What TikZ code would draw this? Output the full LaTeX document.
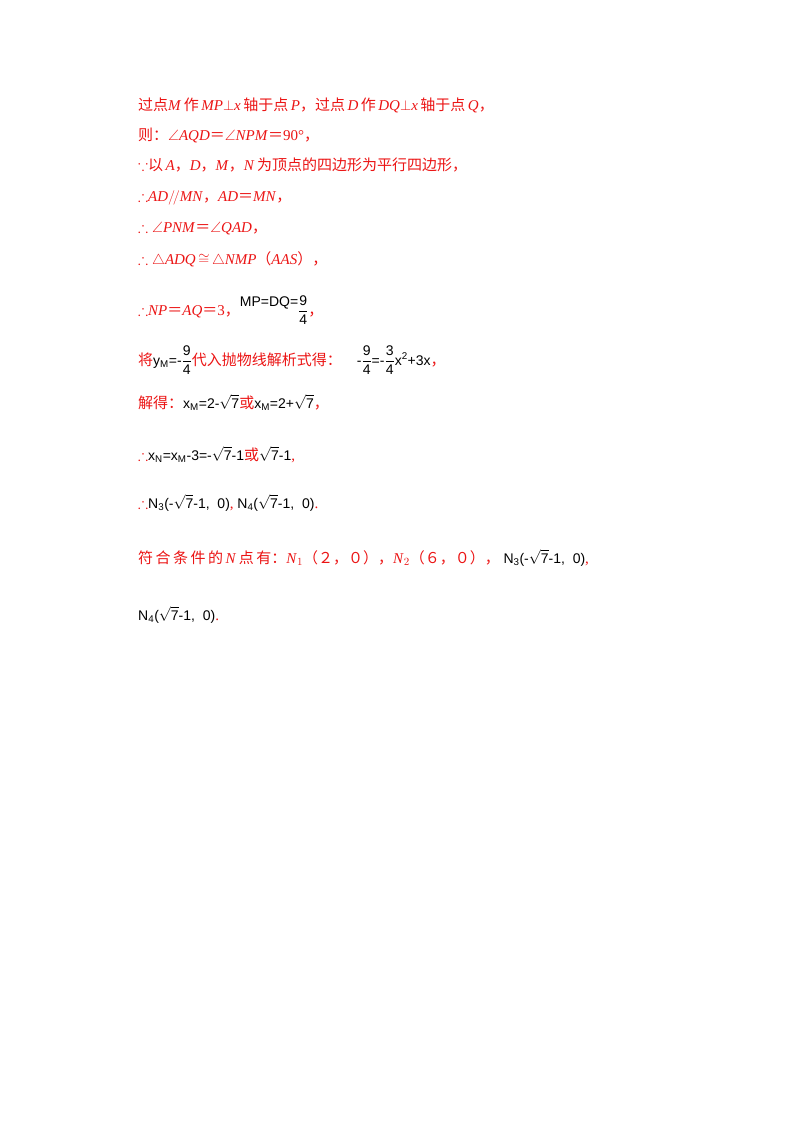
\documentclass[tikz,border=0pt]{standalone}
\usepackage{fontspec}
\usepackage{amsmath,amssymb}
\setmainfont{Liberation Serif}
\newfontfamily\cjk{Noto Sans CJK SC}
\newfontfamily\fsans{Liberation Sans}
\usetikzlibrary{positioning}
\definecolor{ansred}{RGB}{235,20,20}
\newcommand{\zh}[1]{{\cjk #1}}
\newcommand{\blk}[1]{\textcolor{black}{\fsans\fontsize{14}{16}\selectfont #1}}
\begin{document}
\begin{tikzpicture}[x=1pt,y=-1pt,
    line/.style={anchor=base west, inner sep=0pt, text=ansred, font=\fontsize{15}{18}\selectfont}
]
\useasboundingbox (0,0) rectangle (800,1132);
\node[line] (l1) at (138,110) {\zh{过点}\textit{M}\,\zh{作}\,\textit{MP}$\perp$\textit{x}\,\zh{轴于点}\,\textit{P}\zh{，过点}\,\textit{D}\,\zh{作}\,\textit{DQ}$\perp$\textit{x}\,\zh{轴于点}\,\textit{Q}\zh{，}};
\node[line] (l2) at (138,140) {\zh{则：}$\angle$\textit{AQD}\zh{＝}$\angle$\textit{NPM}\zh{＝}90°\zh{，}};
\node[line] (l3) at (138,170) {$\because$\zh{以}\,\textit{A}\zh{，}\textit{D}\zh{，}\textit{M}\zh{，}\textit{N}\,\zh{为顶点的四边形为平行四边形，}};
\node[line] (l4) at (138,201) {$\therefore$\textit{AD}$/\!/$\textit{MN}\zh{，}\textit{AD}\zh{＝}\textit{MN}\zh{，}};
\node[line] (l5) at (138,232) {$\therefore\angle$\textit{PNM}\zh{＝}$\angle$\textit{QAD}\zh{，}};
\node[line] (l6) at (138,264) {$\therefore\triangle$\textit{ADQ}\,$\cong$\,$\triangle$\textit{NMP}\zh{（}\textit{AAS}\zh{），}};
\node[line] (l7) at (138,315) {$\therefore$\textit{NP}\zh{＝}\textit{AQ}\zh{＝}3\zh{，}\blk{\raisebox{9pt}{MP=DQ=}$\dfrac{\text{9}}{\text{4}}$}\zh{，}};
\node[line] (l8) at (138,365) {\zh{将}\blk{y$_{\text{M}}$=-$\dfrac{\text{9}}{\text{4}}$}\zh{代入抛物线解析式得：}\quad\blk{-$\dfrac{\text{9}}{\text{4}}$=-$\dfrac{\text{3}}{\text{4}}$x$^{\text{2}}$+3x}\zh{，}};
\node[line] (l9) at (138,408) {\zh{解得：}\blk{x$_{\text{M}}$=2-$\sqrt{\text{7}}$}\zh{或}\blk{x$_{\text{M}}$=2+$\sqrt{\text{7}}$}\zh{，}};
\node[line] (l10) at (138,460) {$\therefore$\blk{x$_{\text{N}}$=x$_{\text{M}}$-3=-$\sqrt{\text{7}}$-1}\zh{或}\blk{$\sqrt{\text{7}}$-1},};
\node[line] (l11) at (138,508) {$\therefore$\blk{N$_{\text{3}}$(-$\sqrt{\text{7}}$-1,\ \ 0)},\ \blk{N$_{\text{4}}$($\sqrt{\text{7}}$-1,\ \ 0)}.};
\node[line] (l12) at (138,563) {\zh{符\,合\,条\,件\,的}\,\textit{N}\,\zh{点\,有：}\textit{N}$_1$\zh{（２，０），}\textit{N}$_2$\zh{（６，０），}\ \blk{N$_{\text{3}}$(-$\sqrt{\text{7}}$-1,\ \ 0)},};
\node[line] (l13) at (138,620) {\blk{N$_{\text{4}}$($\sqrt{\text{7}}$-1,\ \ 0)}.};
\end{tikzpicture}
\end{document}
